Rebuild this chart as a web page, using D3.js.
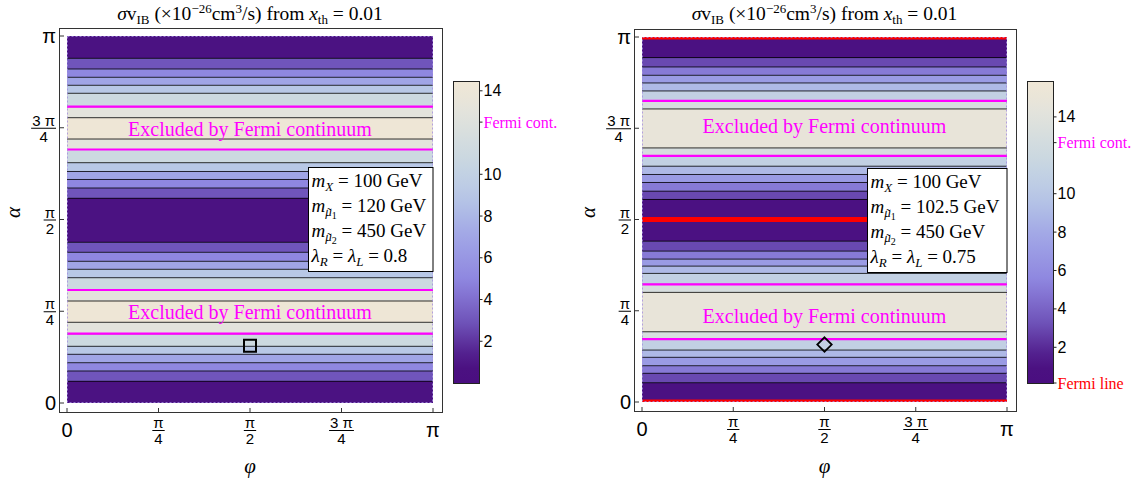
<!DOCTYPE html>
<html>
<head>
<meta charset="utf-8">
<script src="https://cdn.jsdelivr.net/npm/d3@7"></script>
<style>
  body { margin: 0; background: #fff; }
  svg { display: block; }
</style>
</head>
<body>
<svg id="chart" width="1140" height="479"></svg>
<script>
const PI = Math.PI;

// Contour levels of σv_IB (×10^-26 cm^3/s)
const contourLevels = [2, 4, 6, 8, 10, 12, 14];

// ---- Left panel: m_mu1 = 120 GeV, lambda = 0.8 ----
// α/π where each contour level is crossed (from α = 0 upwards) and the level crossed
const leftCrossAlpha = [0.0591, 0.0872, 0.1098, 0.1327, 0.1545, 0.1888, 0.2199,
                        0.2779, 0.3079, 0.3414, 0.3643, 0.3861, 0.4106, 0.4379,
                        0.5578, 0.5858, 0.6090, 0.6308, 0.6548, 0.6907, 0.7193,
                        0.7774, 0.8074, 0.8439, 0.8657, 0.8875, 0.9101, 0.9392];
const leftCrossLevel = [2, 4, 6, 8, 10, 12, 14,
                        14, 12, 10, 8, 6, 4, 2,
                        2, 4, 6, 8, 10, 12, 14,
                        14, 12, 10, 8, 6, 4, 2];
const leftRange = [0, 14.47];
const leftFermiCont = 12.5;
const leftFermiContAlpha = [0.1888, 0.3079, 0.6907, 0.8074];
const leftFermiLineAlpha = [];
const leftExclLabelAlpha = [0.2466, 0.7447];
const leftMarker = [0.5, 0.156];            // [φ/π, α/π]
const leftParams = { mX: "100", mMu1: "120", mMu2: "450", lam: "0.8" };

// ---- Right panel: m_mu1 = 102.5 GeV, lambda = 0.75 ----
const rightCrossAlpha = [0.0528, 0.0786, 0.0994, 0.1224, 0.1423, 0.1725, 0.1924,
                         0.3003, 0.3222, 0.3523, 0.3723, 0.3915, 0.4134, 0.4407,
                         0.5549, 0.5776, 0.6014, 0.6233, 0.6460, 0.6742, 0.6961,
                         0.8029, 0.8248, 0.8522, 0.8741, 0.8951, 0.9179, 0.9436];
const rightCrossLevel = [2, 4, 6, 8, 10, 12, 14,
                         14, 12, 10, 8, 6, 4, 2,
                         2, 4, 6, 8, 10, 12, 14,
                         14, 12, 10, 8, 6, 4, 2];
const rightRange = [0.14, 15.87];
const rightFermiCont = 12.66;
const rightFermiLine = 0.14;
const rightFermiContAlpha = [0.1725, 0.3222, 0.6742, 0.8248];
const rightFermiLineAlpha = [0, 0.5, 1];
const rightExclLabelAlpha = [0.2346, 0.7564];
const rightMarker = [0.5, 0.1574];
const rightParams = { mX: "100", mMu1: "102.5", mMu2: "450", lam: "0.75" };

// Axis ticks (multiples of π)
const tickValues = [0, 0.25, 0.5, 0.75, 1];
const tickLabels = ["0", "π/4", "π/2", "3 π/4", "π"];
const colorbarTicks = [2, 4, 6, 8, 10, 14];

// Colour function, on the value scaled to the panel's range
const colorStopT = [0, 0.069, 0.207, 0.346, 0.484, 0.622, 0.76, 0.898, 0.984, 1];
const colorStopC = ["#4a0e80", "#4b1282", "#7055bb", "#8f87e0", "#a0a5e6",
                    "#b8c8e6", "#ccd9e0", "#e3e3dc", "#eee6d6", "#f0e7d6"];
const colorFn = d3.scaleLinear().domain(colorStopT).range(colorStopC)
  .interpolate(d3.interpolateRgb).clamp(true);

const SERIF = "'Liberation Serif', 'Times New Roman', serif";
const SANS = "'Liberation Sans', Arial, sans-serif";

const svg = d3.select("#chart");
const defs = svg.append("defs");

// Writes a run list into a <text>, each run: {t, it, fs, sh, tilde}
function richText(textSel, runs, baseSize) {
  let shift = 0;
  const tilded = [];
  runs.forEach(r => {
    const sh = r.sh || 0;
    const ts = textSel.append("tspan")
      .attr("font-size", r.fs || baseSize)
      .attr("font-style", r.it ? "italic" : "normal")
      .text(r.t);
    if (sh !== shift) ts.attr("dy", sh - shift);
    shift = sh;
    if (r.tilde) tilded.push({ node: ts.node(), fs: r.fs || baseSize });
  });
  // tilde accents placed over their glyphs
  const parent = d3.select(textSel.node().parentNode);
  tilded.forEach(({ node, fs }) => {
    const ext = node.getExtentOfChar(0);
    const pos = node.getStartPositionOfChar(0);
    parent.append("text")
      .attr("x", ext.x + ext.width / 2 + 1).attr("y", pos.y + 1)
      .attr("text-anchor", "middle")
      .attr("font-family", SERIF).attr("font-size", fs)
      .text("˜");
  });
}

function fraction(parent, cx, cy, num, den, alignEnd, size) {
  const g = parent.append("g").attr("font-family", SANS).attr("font-size", size);
  const n = g.append("text").attr("x", 0).attr("y", -2).attr("text-anchor", "middle").text(num);
  const d = g.append("text").attr("x", 0).attr("y", 14).attr("text-anchor", "middle").text(den);
  const w = Math.max(n.node().getComputedTextLength(), d.node().getComputedTextLength()) + 2;
  g.append("line").attr("x1", -w / 2).attr("x2", w / 2).attr("y1", 0.5).attr("y2", 0.5)
    .attr("stroke", "#000").attr("stroke-width", 1);
  const tx = alignEnd ? cx - w / 2 : cx;
  g.attr("transform", `translate(${tx},${cy})`);
}

function tickLabel(parent, x, y, label, alignEnd) {
  if (label.includes("/")) {
    const [num, den] = label.split("/");
    fraction(parent, x, y, num, den, alignEnd, 15);
  } else {
    parent.append("text")
      .attr("x", x).attr("y", y + 7)
      .attr("text-anchor", alignEnd ? "end" : "middle")
      .attr("font-family", SANS).attr("font-size", 20)
      .text(label);
  }
}

function buildBands(cross, level, range) {
  const bounds = [0, ...cross, 1];
  const lo = d3.min(contourLevels);
  const bands = [];
  for (let i = 0; i < bounds.length - 1; i++) {
    const a = i === 0 ? level[0] : level[i - 1];
    const b = i === bounds.length - 2 ? level[level.length - 1] : level[i];
    let vmin, vmax;
    if (a === b) {
      if (a === lo) { vmin = range[0]; vmax = a; } else { vmin = a; vmax = range[1]; }
    } else { vmin = Math.min(a, b); vmax = Math.max(a, b); }
    bands.push({ a0: bounds[i], a1: bounds[i + 1], v: (vmin + vmax) / 2 });
  }
  return bands;
}

const panels = [
  { cross: leftCrossAlpha, level: leftCrossLevel, range: leftRange,
    fermiCont: leftFermiCont, fermiContAlpha: leftFermiContAlpha,
    fermiLine: null, fermiLineAlpha: leftFermiLineAlpha,
    exclAlpha: leftExclLabelAlpha, marker: leftMarker, shape: "square",
    params: leftParams,
    x0: 67, x1: 433, yTop: 36, yBot: 403, cbX: 453, boxX: 308.5 },
  { cross: rightCrossAlpha, level: rightCrossLevel, range: rightRange,
    fermiCont: rightFermiCont, fermiContAlpha: rightFermiContAlpha,
    fermiLine: rightFermiLine, fermiLineAlpha: rightFermiLineAlpha,
    exclAlpha: rightExclLabelAlpha, marker: rightMarker, shape: "diamond",
    params: rightParams,
    x0: 642, x1: 1007, yTop: 37, yBot: 402, cbX: 1027, boxX: 867.5 }
];

panels.forEach((p, pi) => {
  const x = d3.scaleLinear().domain([0, PI]).range([p.x0, p.x1]);
  const y = d3.scaleLinear().domain([0, PI]).range([p.yBot, p.yTop]);
  const norm = d3.scaleLinear().domain(p.range).range([0, 1]);
  const color = v => colorFn(norm(v));

  const clipId = "plotClip" + pi;
  defs.append("clipPath").attr("id", clipId).append("rect")
    .attr("x", p.x0).attr("y", p.yTop)
    .attr("width", p.x1 - p.x0).attr("height", p.yBot - p.yTop);

  const g = svg.append("g");
  const plot = g.append("g").attr("clip-path", `url(#${clipId})`);

  // filled contour bands
  const bands = buildBands(p.cross, p.level, p.range);
  plot.selectAll("rect.band").data(bands).join("rect")
    .attr("class", "band")
    .attr("x", p.x0).attr("width", p.x1 - p.x0)
    .attr("y", d => y(d.a1 * PI))
    .attr("height", d => y(d.a0 * PI) - y(d.a1 * PI))
    .attr("fill", d => color(d.v))
    .attr("shape-rendering", "crispEdges");

  // contour lines
  plot.selectAll("line.contour").data(p.cross).join("line")
    .attr("class", "contour")
    .attr("x1", p.x0).attr("x2", p.x1)
    .attr("y1", d => y(d * PI)).attr("y2", d => y(d * PI))
    .attr("stroke", "#000").attr("stroke-opacity", 0.8).attr("stroke-width", 1);

  // Fermi continuum limit
  plot.selectAll("line.fcont").data(p.fermiContAlpha).join("line")
    .attr("class", "fcont")
    .attr("x1", p.x0).attr("x2", p.x1)
    .attr("y1", d => y(d * PI)).attr("y2", d => y(d * PI))
    .attr("stroke", "#ff00ff").attr("stroke-width", 2.2);

  // Fermi line limit
  plot.selectAll("line.fline").data(p.fermiLineAlpha).join("line")
    .attr("class", "fline")
    .attr("x1", p.x0).attr("x2", p.x1)
    .attr("y1", d => y(d * PI)).attr("y2", d => y(d * PI))
    .attr("stroke", "#ff0000").attr("stroke-width", 5);

  // region boundary
  g.append("rect")
    .attr("x", p.x0 + 0.5).attr("y", p.yTop + 0.5)
    .attr("width", p.x1 - p.x0 - 1).attr("height", p.yBot - p.yTop - 1)
    .attr("fill", "none").attr("stroke", "#a48ee0").attr("stroke-width", 1)
    .attr("stroke-dasharray", "2,2").attr("stroke-opacity", 0.8);

  // excluded-region labels
  g.selectAll("text.excl").data(p.exclAlpha).join("text")
    .attr("class", "excl")
    .attr("x", (p.x0 + p.x1) / 2).attr("y", d => y(d * PI) + 6.6)
    .attr("text-anchor", "middle")
    .attr("font-family", SERIF).attr("font-size", 20)
    .attr("fill", "#ff00ff")
    .text("Excluded by Fermi continuum");

  // benchmark marker
  const mx = x(p.marker[0] * PI), my = y(p.marker[1] * PI);
  if (p.shape === "square") {
    g.append("rect").attr("x", mx - 6).attr("y", my - 6).attr("width", 12).attr("height", 12)
      .attr("fill", "none").attr("stroke", "#000").attr("stroke-width", 2);
  } else {
    const r = 7.2;
    g.append("path").attr("d", `M${mx},${my - r}L${mx + r},${my}L${mx},${my + r}L${mx - r},${my}Z`)
      .attr("fill", "none").attr("stroke", "#000").attr("stroke-width", 1.8);
  }

  // parameter box
  const boxY = p.yTop + 131.5, boxW = p.x1 - p.boxX, boxH = 104;
  const box = g.append("g");
  box.append("rect").attr("x", p.boxX).attr("y", boxY).attr("width", boxW).attr("height", boxH)
    .attr("fill", "#fff").attr("stroke", "#000").attr("stroke-width", 1);
  const lines = [
    [{ t: "m", it: 1 }, { t: "X", it: 1, fs: 13, sh: 4 }, { t: " = " + p.params.mX + " GeV" }],
    [{ t: "m", it: 1 }, { t: "μ", it: 1, fs: 13, sh: 4, tilde: 1 }, { t: "1", fs: 10, sh: 7 }, { t: " = " + p.params.mMu1 + " GeV" }],
    [{ t: "m", it: 1 }, { t: "μ", it: 1, fs: 13, sh: 4, tilde: 1 }, { t: "2", fs: 10, sh: 7 }, { t: " = " + p.params.mMu2 + " GeV" }],
    [{ t: "λ", it: 1 }, { t: "R", it: 1, fs: 13, sh: 4 }, { t: " = " }, { t: "λ", it: 1 },
     { t: "L", it: 1, fs: 13, sh: 4 }, { t: " = " + p.params.lam }]
  ];
  lines.forEach((runs, k) => {
    const t = box.append("text").attr("x", p.boxX + 3).attr("y", boxY + 19 + k * 25.3)
      .attr("font-family", SERIF).attr("font-size", 19);
    richText(t, runs, 19);
  });

  // frame
  const fL = p.x0 - 8, fR = p.x1 + 9, fT = p.yTop - 8, fB = p.yBot + 9;
  g.append("rect").attr("x", fL + 0.5).attr("y", fT + 0.5)
    .attr("width", fR - fL).attr("height", fB - fT)
    .attr("fill", "none").attr("stroke", "#333").attr("stroke-width", 1);

  // ticks
  tickValues.forEach((tv, k) => {
    const xx = x(tv * PI), yy = y(tv * PI);
    g.append("line").attr("x1", xx).attr("x2", xx).attr("y1", fB + 0.5).attr("y2", fB - 4)
      .attr("stroke", "#333");
    g.append("line").attr("x1", fL + 0.5).attr("x2", fL + 5).attr("y1", yy).attr("y2", yy)
      .attr("stroke", "#333");
    tickLabel(g, xx, fB + 18, tickLabels[k], false);
    tickLabel(g, fL - 3, yy, tickLabels[k], true);
  });

  // axis labels
  g.append("text").attr("x", (p.x0 + p.x1) / 2).attr("y", 473)
    .attr("text-anchor", "middle").attr("font-family", SERIF)
    .attr("font-style", "italic").attr("font-size", 21).text("φ");
  g.append("text")
    .attr("transform", `translate(${fL - 39},${y(PI / 2) - 7}) rotate(-90)`)
    .attr("text-anchor", "middle").attr("font-family", SERIF)
    .attr("font-style", "italic").attr("font-size", 21).text("α");

  // title
  const tg = g.append("g");
  const title = tg.append("text").attr("x", (p.x0 + p.x1) / 2).attr("y", 20)
    .attr("text-anchor", "middle").attr("font-family", SERIF).attr("font-size", 19.5);
  richText(title, [
    { t: "σ", it: 1 }, { t: "v" }, { t: "IB", fs: 13, sh: 4 },
    { t: " (×10" }, { t: "−26", fs: 13, sh: -7 }, { t: "cm" }, { t: "3", fs: 13, sh: -7 },
    { t: "/s) from " }, { t: "x", it: 1 }, { t: "th", fs: 13, sh: 4 }, { t: " = 0.01" }
  ], 19.5);

  // colour bar
  const cbY0 = 81, cbY1 = 383, cbW = 26;
  const cb = d3.scaleLinear().domain(p.range).range([cbY1, cbY0]);
  const gradId = "cbGrad" + pi;
  const grad = defs.append("linearGradient").attr("id", gradId)
    .attr("x1", 0).attr("y1", 1).attr("x2", 0).attr("y2", 0);
  d3.range(0, 1.0001, 0.05).forEach(t => {
    grad.append("stop").attr("offset", t).attr("stop-color", colorFn(t));
  });
  g.append("rect").attr("x", p.cbX + 0.5).attr("y", cbY0 + 0.5)
    .attr("width", cbW).attr("height", cbY1 - cbY0)
    .attr("fill", `url(#${gradId})`).attr("stroke", "#222").attr("stroke-width", 1);

  const cbR = p.cbX + cbW + 0.5;
  const cbTicks = colorbarTicks.map(v => ({ v, label: String(v), col: "#000", font: SANS, fs: 16 }));
  cbTicks.push({ v: p.fermiCont, label: "Fermi cont.", col: "#ff00ff", font: SERIF, fs: 16 });
  if (p.fermiLine !== null) {
    cbTicks.push({ v: p.fermiLine, label: "Fermi line", col: "#ff0000", font: SERIF, fs: 16 });
  }
  cbTicks.forEach(tk => {
    const yy = cb(tk.v);
    g.append("line").attr("x1", cbR).attr("x2", cbR + 3).attr("y1", yy).attr("y2", yy)
      .attr("stroke", "#222");
    g.append("text").attr("x", cbR + 4).attr("y", yy + 5.5)
      .attr("font-family", tk.font).attr("font-size", tk.fs).attr("fill", tk.col)
      .text(tk.label);
  });
});
</script>
</body>
</html>
